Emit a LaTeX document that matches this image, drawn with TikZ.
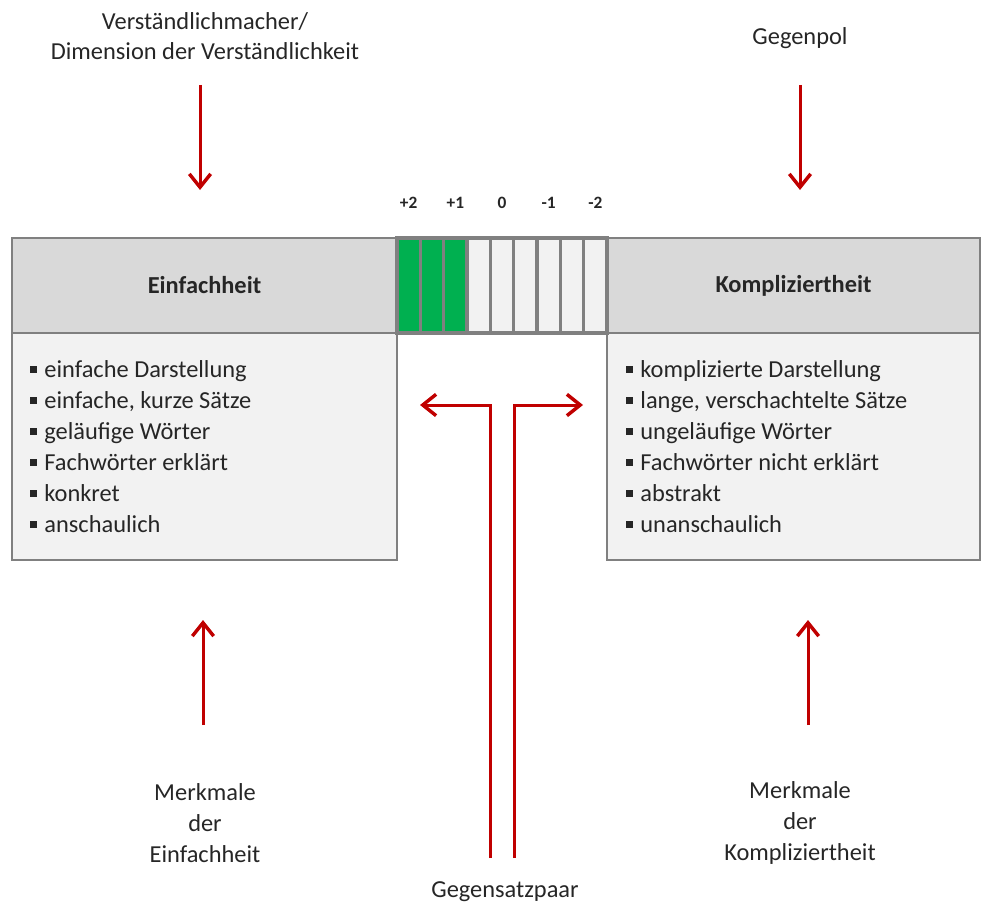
\documentclass[tikz,border=0pt]{standalone}
\usepackage{fontspec}
\setmainfont{Carlito}
\usetikzlibrary{arrows.meta,positioning}
\definecolor{redarrow}{HTML}{C00000}
\definecolor{frame}{HTML}{808080}
\definecolor{headfill}{HTML}{D9D9D9}
\definecolor{bodyfill}{HTML}{F2F2F2}
\definecolor{scalegreen}{HTML}{00B050}
\definecolor{ink}{HTML}{262626}
\newcommand{\bul}{\raisebox{0.18em}{\rule{0.28em}{0.28em}}\hspace{0.3em}}
\tikzset{
  % Boxes of the two poles
  head/.style={draw=frame,line width=2pt,fill=headfill,minimum height=71.25pt,
               inner sep=0pt,font=\fontsize{18.3}{23}\selectfont\bfseries,text=ink},
  body/.style={draw=frame,line width=2pt,fill=bodyfill,minimum height=170.25pt,
               inner sep=0pt},
  % Rating scale
  cell/.style={draw=frame,line width=2.6pt,fill=bodyfill,minimum width=17.5pt,
               minimum height=71.25pt,inner sep=0pt},
  tick/.style={font=\fontsize{13}{15}\selectfont\bfseries,text=ink,inner sep=0pt},
  % Texts
  lbl/.style={align=center,font=\fontsize{18.3}{23}\selectfont,text=ink,inner sep=0pt},
  item/.style={anchor=base west,font=\fontsize{18.3}{23}\selectfont,text=ink,inner sep=0pt},
  % Arrows
  arr/.style={-{Straight Barb[length=10pt,width=16pt,line width=2.6pt]},redarrow,line width=2.25pt}
}

\begin{document}
\begin{tikzpicture}[x=0.75pt,y=-0.75pt]
  \useasboundingbox (0,0) rectangle (982,906);

  % Pole boxes
  \node[head,minimum width=288.75pt] (hl) at (204.5,285.5) {Einfachheit};
  \node[body,minimum width=288.75pt] (bl) at (204.5,446.5) {};
  \node[head,minimum width=279.75pt] (hr) at (793.5,285.5) {Kompliziertheit};
  \node[body,minimum width=279.75pt] (br) at (793.5,446.5) {};

  % Scale cells
  \foreach \i in {1,...,9}{
    \ifnum\i<4
      \node[cell,fill=scalegreen] (c\i) at ({397+23.33*(\i-0.5)},285.5) {};
    \else
      \node[cell] (c\i) at ({397+23.33*(\i-0.5)},285.5) {};
    \fi
  }
  \foreach \t [count=\k] in {+2,+1,0,-1,-2}{
    \pgfmathtruncatemacro{\j}{2*\k-1}
    \node[tick] (t\k) at ({397+23.33*(\j-0.5)},203) {\t};
  }

  % Feature lists
  \foreach \t [count=\i] in {einfache Darstellung,{einfache, kurze Sätze},geläufige Wörter,
                             Fachwörter erklärt,konkret,anschaulich}{
    \node[item] (l\i) at (30,{377+31*(\i-1)}) {\bul\t};
  }
  \foreach \t [count=\i] in {komplizierte Darstellung,{lange, verschachtelte Sätze},
                             ungeläufige Wörter,Fachwörter nicht erklärt,abstrakt,unanschaulich}{
    \node[item] (r\i) at (626,{377+31*(\i-1)}) {\bul\t};
  }

  % Labels
  \node[lbl] (dim)  at (205,36)  {Verständlichmacher/\\Dimension der Verständlichkeit};
  \node[lbl] (gp)   at (800,38)  {Gegenpol};
  \node[lbl] (mle)  at (205,823) {Merkmale\\der\\Einfachheit};
  \node[lbl] (mlk)  at (800,823) {Merkmale\\der\\Kompliziertheit};
  \node[lbl] (gsp)  at (505,892) {Gegensatzpaar};

  % Arrow ends
  \coordinate (a1s) at (200,85);  \coordinate (a1e) at (200,190);
  \coordinate (a2s) at (800,85);  \coordinate (a2e) at (800,190);
  \coordinate (a3s) at (203,725); \coordinate (a3e) at (203,620);
  \coordinate (a4s) at (808,725); \coordinate (a4e) at (808,620);
  \coordinate (gls) at (490,858); \coordinate (gle) at (420,405);
  \coordinate (grs) at (514,858); \coordinate (gre) at (583,405);

  % Arrows
  \draw[arr] (a1s) -- (a1e);
  \draw[arr] (a2s) -- (a2e);
  \draw[arr] (a3s) -- (a3e);
  \draw[arr] (a4s) -- (a4e);
  \draw[arr] (gls) |- (gle);
  \draw[arr] (grs) |- (gre);
\end{tikzpicture}
\end{document}
